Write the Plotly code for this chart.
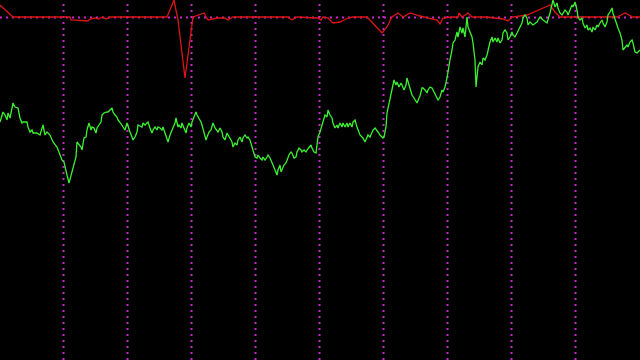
import plotly.graph_objects as go

# Green price series: (bar position, level measured downward from top)
green_x = [0,3,5,7,8,10,13,15,18,20,22,23,27,28,30,32,33,37,40,42,43,45,47,50,53,57,60,62,64,66,67,69,71,72,74,76,77,79,81,82,84,86,87,89,91,92,94,96,97,99,101,102,104,107,
           108,112,113,115,117,118,120,122,123,125,127,128,130,132,133,135,137,138,142,143,145,147,148,150,152,153,155,157,158,160,162,163,165,167,168,170,172,173,175,176,178,179,181,182,184,186,187,189,191,192,194,196,197,199,201,202,204,206,207,209,211,212,
           213,215,217,218,220,222,223,225,227,228,230,232,233,235,237,238,240,242,243,245,247,248,250,252,253,255,257,258,260,262,263,265,267,268,270,272,273,275,277,278,280,281,283,284,286,287,289,291,292,294,296,297,299,301,302,304,306,307,309,311,312,314,316,
           317,318,320,322,323,325,327,328,330,332,333,335,337,338,340,342,343,345,347,348,350,352,353,355,357,358,360,362,363,365,367,368,370,372,373,375,377,378,380,382,383,384,386,387,389,391,392,394,396,397,399,401,402,404,406,407,409,411,412,414,416,417,419,
           420,422,423,425,427,428,430,432,433,435,437,438,440,442,443,445,447,448,450,452,453,455,457,458,460,462,463,465,467,468,470,472,473,475,476,477,478,480,482,483,485,487,488,490,492,493,495,497,498,500,502,503,505,507,508,510,512,513,515,517,518,520,522,523,525,527,528,
           530,533,537,540,543,547,550,552,553,555,557,558,560,562,563,565,567,568,570,572,573,575,577,578,580,582,583,585,587,588,590,592,593,595,597,598,600,602,603,605,607,608,610,612,613,615,617,618,620,622,623,625,627,628,630,632,633,635,637,638,640]
green_y = [122,112,115,120,113,118,103,107,108,118,123,122,122,127,132,130,133,133,135,127,125,135,132,135,142,147,155,160,162,173,175,183,175,170,165,157,142,145,147,150,138,137,130,123,130,127,128,133,128,125,122,115,113,112,
           112,108,112,115,117,120,122,125,127,130,123,127,132,137,140,137,132,125,127,123,125,123,122,128,133,130,127,130,127,128,130,127,133,138,142,135,130,127,123,118,127,125,128,123,128,133,128,123,127,122,117,112,115,118,122,125,133,140,137,132,130,127,
           123,128,130,132,128,132,137,140,133,135,138,142,147,143,145,140,137,142,138,135,138,137,140,147,152,157,158,155,158,160,157,160,157,155,158,162,165,170,175,170,165,172,168,165,163,160,155,152,153,158,157,152,148,150,152,150,152,150,147,145,148,152,153,
           145,137,132,125,120,115,117,110,115,118,123,128,125,128,123,127,123,127,123,127,123,127,122,120,127,130,135,137,138,142,138,135,137,132,130,128,130,132,135,137,138,137,127,113,103,92,88,80,85,82,87,83,85,90,85,78,85,93,95,98,102,103,98,
           96,88,88,90,93,90,87,88,90,93,97,100,97,90,92,87,78,70,60,50,43,40,32,37,27,33,28,37,17,27,32,37,43,60,87,77,67,62,65,58,60,55,50,42,37,42,38,42,38,43,40,33,30,33,40,37,32,35,37,33,32,28,23,18,15,18,25,
           22,25,22,17,20,23,13,3,0,7,3,8,13,15,13,10,12,15,10,5,7,2,10,17,20,18,23,28,25,30,28,32,27,30,25,27,23,20,23,27,22,15,12,8,13,20,27,28,33,40,50,47,45,47,42,40,43,52,53,52,50]

# Red oscillator series
red_x = [0,13,70,71,88,90,95,98,103,106,110,167,174,178,185,193,204,208,217,225,228,233,288,292,297,318,321,323,328,333,340,348,353,367,382,387,392,398,403,410,420,430,437,440,443,453,458,459,462,468,472,487,503,508,512,527,550,555,560,617,625,633,640]
red_y = [5,17,17,20,21,19,18,19,17,19,17,17,0,20,78,17,13,20,18,18,20,17,17,20,17,18,20,17,18,23,22,18,17,17,33,27,17,13,17,13,16,18,20,24,18,17,17,13,17,13,17,17,19,21,17,15,5,12,17,17,13,17,17]

# Separator / reference levels
vgrid = [63.5, 127.5, 191.5, 255.5, 319.5, 383.5, 447.5, 511.5, 575.5]
hlevel = [17.5]

grid_color = "rgb(200,40,200)"
grid_dash = "2px,4px"

fig = go.Figure()
for gx in vgrid:
    fig.add_shape(type="line", xref="x", yref="paper", x0=gx, x1=gx, y0=0, y1=1,
                  line=dict(color=grid_color, width=2, dash=grid_dash), layer="below")
for hy in hlevel:
    fig.add_shape(type="line", xref="paper", yref="y", x0=0, x1=1, y0=hy, y1=hy,
                  line=dict(color=grid_color, width=2, dash=grid_dash), layer="below")

fig.add_trace(go.Scatter(x=red_x, y=red_y, mode="lines",
                         line=dict(color="#dd1414", width=1.3), hoverinfo="skip"))
fig.add_trace(go.Scatter(x=green_x, y=green_y, mode="lines",
                         line=dict(color="#3cf032", width=1.3), hoverinfo="skip"))

fig.update_layout(
    width=640, height=360,
    margin=dict(l=0, r=0, t=0, b=0),
    paper_bgcolor="black", plot_bgcolor="black",
    showlegend=False,
    xaxis=dict(range=[0, 640], showticklabels=False, ticks="", showgrid=False,
               zeroline=False, showline=False),
    yaxis=dict(range=[360, 0], showticklabels=False, ticks="", showgrid=False,
               zeroline=False, showline=False),
)
fig.write_html("out.html", config={"displayModeBar": False})
